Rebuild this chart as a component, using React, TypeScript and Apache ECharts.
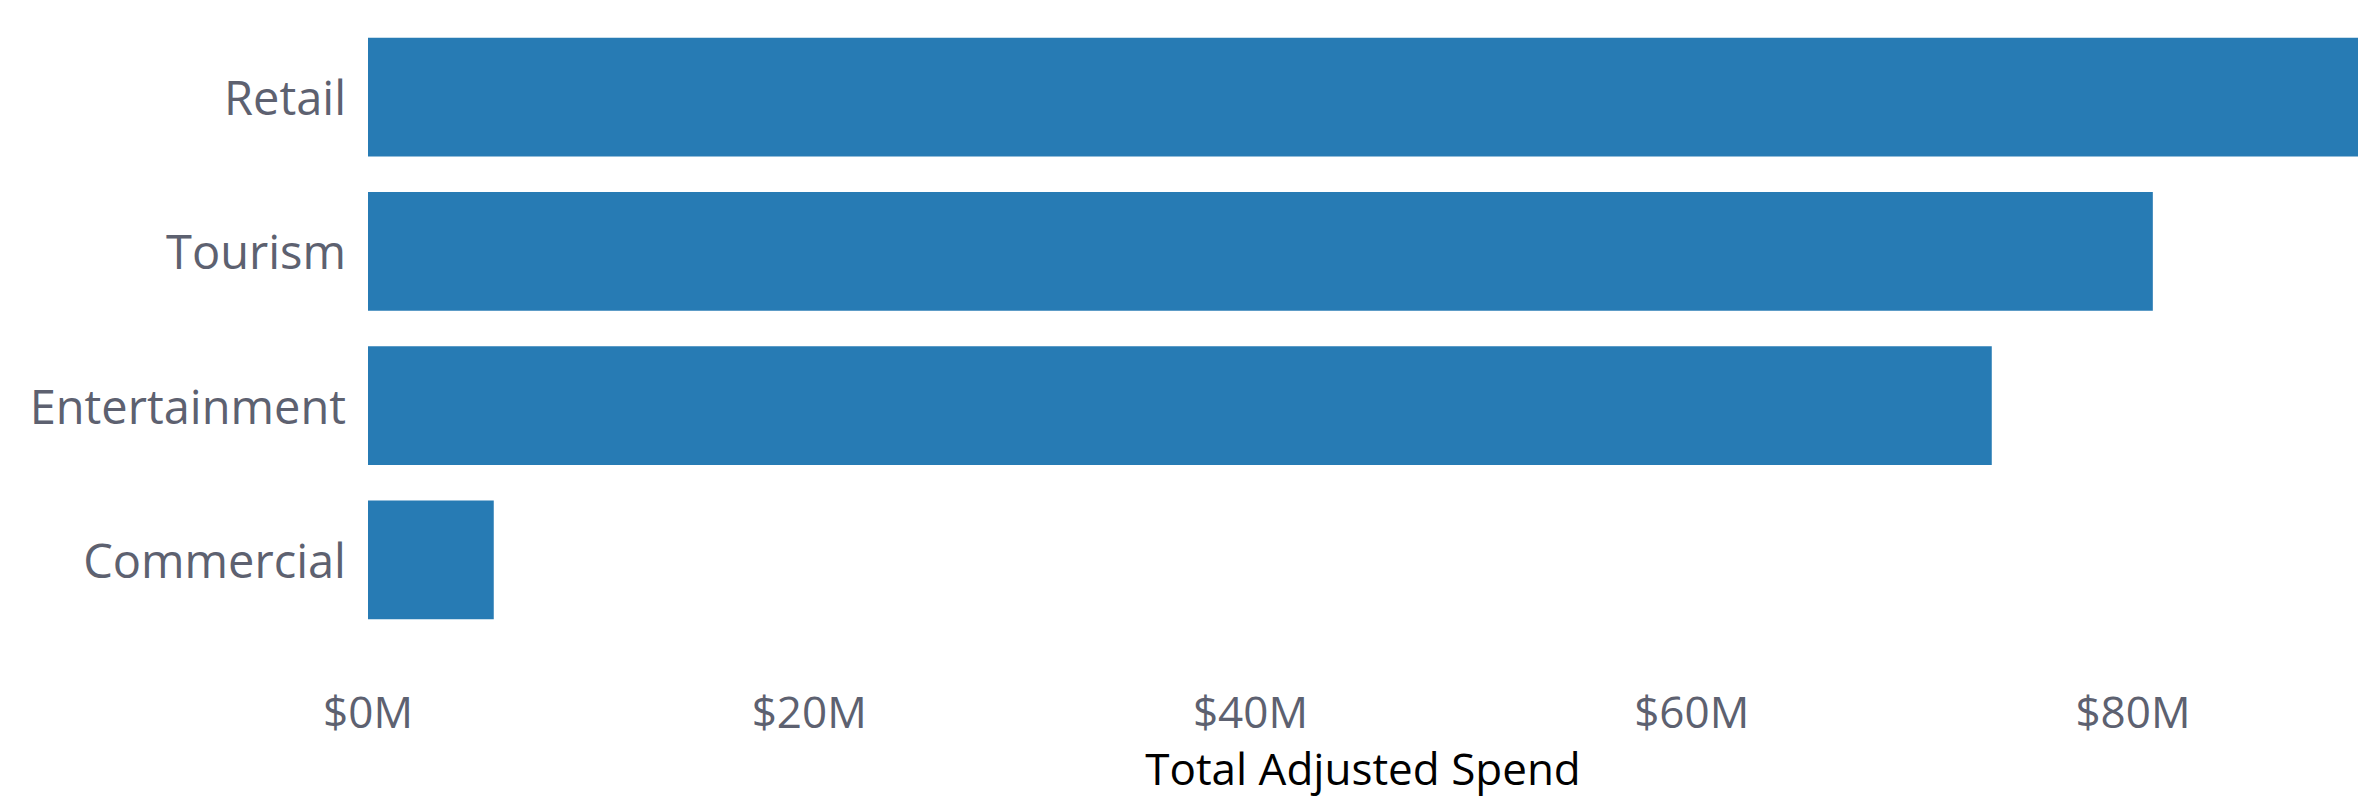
import React, { useEffect, useRef } from "react";
import * as echarts from "echarts";

const categories = ["Retail", "Tourism", "Entertainment", "Commercial"];
const spendValues = [90200000, 80900000, 73600000, 5700000];
const tickStep = 20000000;

const FONT = "'Open Sans', 'Noto Sans', sans-serif";

export default function App() {
  const ref = useRef<HTMLDivElement>(null);
  useEffect(() => {
    document.body.style.margin = "0";
    const chart = echarts.init(ref.current!, null, { renderer: "svg" });
    chart.setOption({
      animation: false,
      backgroundColor: "#ffffff",
      grid: { left: 368, right: 0, top: 20, bottom: 160, containLabel: false },
      xAxis: {
        type: "value",
        min: 0,
        max: (v: any) => v.max,
        interval: tickStep,
        name: "Total Adjusted Spend",
        nameLocation: "middle",
        nameGap: 109,
        nameTextStyle: { color: "#000000", fontSize: 44, lineHeight: 43, fontFamily: FONT },
        axisLine: { show: false },
        axisTick: { show: false },
        splitLine: { show: false },
        axisLabel: {
          showMaxLabel: false,
          color: "#5d6170",
          fontSize: 44,
          lineHeight: 43,
          fontFamily: FONT,
          margin: 52,
          formatter: (v: number) => "$" + Math.round(v / 1000000) + "M",
        },
      },
      yAxis: {
        type: "category",
        data: categories,
        inverse: true,
        axisLine: { show: false },
        axisTick: { show: false },
        splitLine: { show: false },
        axisLabel: {
          color: "#5d6170",
          fontSize: 47,
          fontFamily: FONT,
          margin: 22,
        },
      },
      series: [
        {
          type: "bar",
          data: spendValues,
          barCategoryGap: "23%",
          itemStyle: { color: "#277bb4" },
        },
      ],
    });
    return () => chart.dispose();
  }, []);
  return <div ref={ref} style={{ width: 2358, height: 797 }} />;
}
